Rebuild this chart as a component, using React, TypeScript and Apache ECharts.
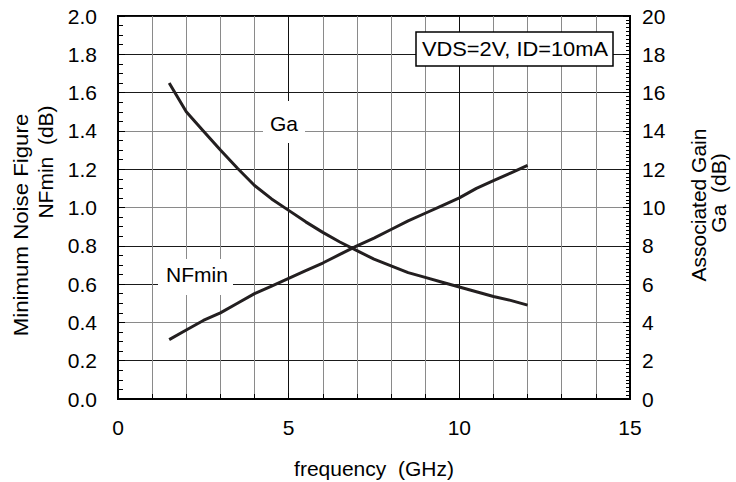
import React, { useEffect, useRef } from "react";
import * as echarts from "echarts";

const freqGHz = [1.5, 2, 2.5, 3, 3.5, 4, 4.5, 5, 5.5, 6, 6.5, 7, 7.5, 8, 8.5, 9, 9.5, 10, 10.5, 11, 11.5, 12];
const nfMin = [0.31, 0.36, 0.41, 0.45, 0.5, 0.55, 0.59, 0.63, 0.67, 0.71, 0.755, 0.8, 0.84, 0.885, 0.93, 0.97, 1.01, 1.05, 1.1, 1.14, 1.18, 1.22];
const gainGa = [16.5, 15.0, 14.0, 13.0, 12.05, 11.15, 10.45, 9.85, 9.25, 8.7, 8.2, 7.75, 7.3, 6.95, 6.6, 6.35, 6.1, 5.85, 5.6, 5.35, 5.15, 4.9];

const FONT = "'Liberation Sans', Arial, Helvetica, sans-serif";
const INK = "#231f20";

export default function App() {
  const ref = useRef<HTMLDivElement>(null);
  useEffect(() => {
    document.body.style.margin = "0";
    const chart = echarts.init(ref.current!, null, { renderer: "svg" });
    const dark = "#1a1a1a";
    const gray = "#8a8a8a";
    const txt = (text: string, x: number, y: number, extra: any = {}) => ({
      type: "text",
      x,
      y,
      z: 11,
      ...extra,
      style: { text, font: `${extra.size || 21}px ${FONT}`, fill: "#000", align: "center", verticalAlign: "middle" },
    });
    chart.setOption({
      animation: false,
      backgroundColor: "#fff",
      textStyle: { fontFamily: FONT },
      grid: {
        left: 118,
        right: 106,
        top: 16,
        bottom: 83,
        show: true,
        borderColor: "#000",
        borderWidth: 2,
        backgroundColor: "transparent",
      },
      xAxis: {
        type: "value",
        min: 0,
        max: 15,
        interval: 5,
        axisLine: { show: true, lineStyle: { color: "#000", width: 2 } },
        axisTick: { show: true, inside: true, length: 6, lineStyle: { color: "#000", width: 1 } },
        minorTick: { show: true, splitNumber: 5, length: 5, lineStyle: { color: "#000", width: 1 } },
        splitLine: { show: true, lineStyle: { color: "#111", width: 1 } },
        minorSplitLine: { show: true, lineStyle: { color: gray, width: 1 } },
        axisLabel: { fontSize: 21, color: "#000", margin: 18, fontFamily: FONT },
      },
      yAxis: [
        {
          type: "value",
          min: 0,
          max: 2,
          interval: 0.2,
          position: "left",
          axisLine: { show: true, lineStyle: { color: "#000", width: 2 } },
          axisTick: { show: true, inside: true, length: 7, lineStyle: { color: "#000", width: 1 } },
          minorTick: { show: true, splitNumber: 4, length: 5, lineStyle: { color: "#000", width: 1 } },
          splitLine: {
            show: true,
            lineStyle: {
              color: [dark, dark, gray, dark, dark, gray, dark, gray, dark, dark, dark],
              width: 1,
            },
          },
          axisLabel: {
            fontSize: 21,
            color: "#000",
            margin: 21,
            fontFamily: FONT,
            formatter: (v: number) => v.toFixed(1),
          },
        },
        {
          type: "value",
          min: 0,
          max: 20,
          interval: 2,
          position: "right",
          axisLine: { show: true, lineStyle: { color: "#000", width: 2 } },
          axisTick: { show: true, inside: true, length: 7, lineStyle: { color: "#000", width: 1 } },
          minorTick: { show: true, splitNumber: 10, length: 4, lineStyle: { color: "#000", width: 1 } },
          splitLine: { show: false },
          axisLabel: { fontSize: 21, color: "#000", margin: 12, fontFamily: FONT },
        },
      ],
      series: [
        {
          name: "NFmin",
          type: "line",
          yAxisIndex: 0,
          symbol: "none",
          smooth: false,
          lineStyle: { color: INK, width: 3 },
          data: freqGHz.map((f, i) => [f, nfMin[i]]),
          z: 5,
        },
        {
          name: "Ga",
          type: "line",
          yAxisIndex: 1,
          symbol: "none",
          smooth: false,
          lineStyle: { color: INK, width: 3 },
          data: freqGHz.map((f, i) => [f, gainGa[i]]),
          z: 5,
        },
      ],
      graphic: [
        { type: "rect", shape: { x: 263, y: 101, width: 42, height: 42 }, style: { fill: "#fff" }, z: 10 },
        txt("Ga", 284, 123),
        { type: "rect", shape: { x: 158, y: 259, width: 75, height: 36 }, style: { fill: "#fff" }, z: 10 },
        txt("NFmin", 197, 274),
        {
          type: "rect",
          shape: { x: 416, y: 32, width: 197, height: 34 },
          style: { fill: "#fff", stroke: "#000", lineWidth: 1.5 },
          z: 10,
        },
        txt("VDS=2V, ID=10mA", 515, 49, { scaleX: 1.04 }),
        txt("frequency  (GHz)", 374, 468),
        txt("Minimum Noise Figure", 21, 225, { rotation: Math.PI / 2, scaleX: 1.06 }),
        txt("NFmin  (dB)", 45, 162, { rotation: Math.PI / 2 }),
        txt("Associated Gain", 698, 205, { rotation: Math.PI / 2 }),
        txt("Ga  (dB)", 718, 193, { rotation: Math.PI / 2 }),
      ],
    });
    return () => chart.dispose();
  }, []);
  return <div ref={ref} style={{ width: 736, height: 482 }} />;
}
